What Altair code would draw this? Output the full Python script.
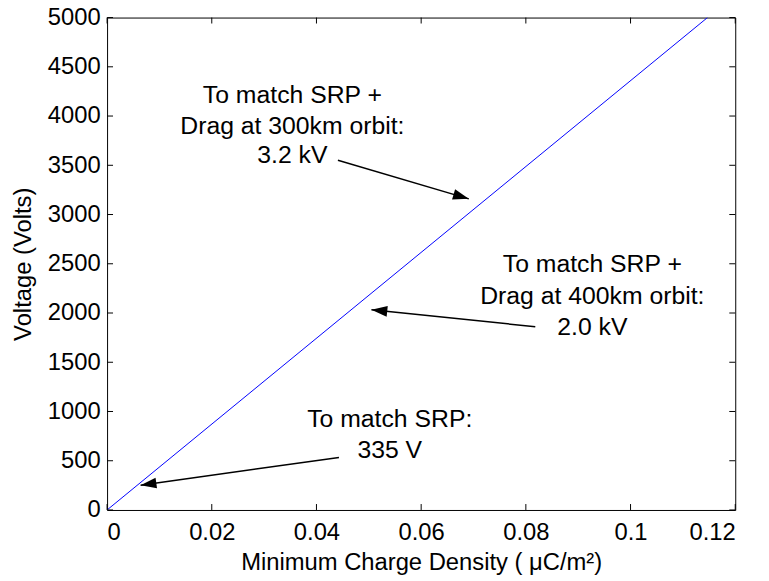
import math
import altair as alt
import pandas as pd

# ---- data ----
density_line = [0.0, 0.1147]          # µC/m^2
voltage_line = [0.0, 5000.0]          # Volts

x_ticks = [0.0, 0.02, 0.04, 0.06, 0.08, 0.1, 0.12]
y_ticks = [0, 500, 1000, 1500, 2000, 2500, 3000, 3500, 4000, 4500, 5000]

# arrows: tail -> head (data coords)
arrow_x_tail = [0.0441, 0.0818, 0.0443]
arrow_y_tail = [3551, 1861, 533]
arrow_x_head = [0.0691, 0.0505, 0.0064]
arrow_y_head = [3159, 2032, 252]

# annotation text lines
ann_text = [
    "To match SRP +", "Drag at 300km orbit:", "3.2 kV",
    "To match SRP +", "Drag at 400km orbit:", "2.0 kV",
    "To match SRP:", "335 V",
]
ann_x = [0.0354, 0.0354, 0.0354,
         0.0927, 0.0927, 0.0927,
         0.0540, 0.0540]
ann_y = [4215, 3903, 3602,
         2495, 2173, 1861,
         926, 604]

W, H = 634, 497
XMAX, YMAX = 0.12, 5000
FONT = "Liberation Sans"

line_df = pd.DataFrame({"x": density_line, "y": voltage_line})
xt_df = pd.DataFrame({"x": x_ticks})
yt_df = pd.DataFrame({"y": y_ticks})
arr_df = pd.DataFrame({"x": arrow_x_tail, "y": arrow_y_tail,
                       "x2": arrow_x_head, "y2": arrow_y_head})
arr_df["angle"] = [
    math.degrees(math.atan2(-(yh - yt) * H / YMAX, (xh - xt) * W / XMAX)) % 360
    for xt, yt, xh, yh in zip(arrow_x_tail, arrow_y_tail, arrow_x_head, arrow_y_head)
]
ann_df = pd.DataFrame({"x": ann_x, "y": ann_y, "t": ann_text})

xscale = alt.Scale(domain=[0, XMAX], nice=False, zero=False)
yscale = alt.Scale(domain=[0, YMAX], nice=False, zero=False)

xaxis = alt.Axis(values=x_ticks, format="~g", title="Minimum Charge Density ( μC/m²)",
                 grid=False, ticks=False, tickSize=0, domain=False,
                 labelPadding=11, titleY=60, titleX=W / 2,
                 titleBaseline="alphabetic")
yaxis = alt.Axis(values=y_ticks, format="d", title="Voltage (Volts)",
                 grid=False, ticks=False, tickSize=0, domain=False,
                 labelPadding=7, titleX=-77, titleY=H / 2, titleAngle=270,
                 titleBaseline="alphabetic", titleAlign="center")

base_line = alt.Chart(line_df).mark_line(color="#0000ff", strokeWidth=1, clip=True).encode(
    x=alt.X("x:Q", scale=xscale, axis=xaxis),
    y=alt.Y("y:Q", scale=yscale, axis=yaxis),
)

tick_x_bottom = alt.Chart(xt_df).mark_rule(color="black", strokeWidth=1).encode(
    x=alt.X("x:Q", scale=xscale), y=alt.value(H), y2=alt.value(H - 6))
tick_x_top = alt.Chart(xt_df).mark_rule(color="black", strokeWidth=1).encode(
    x=alt.X("x:Q", scale=xscale), y=alt.value(0), y2=alt.value(6))
tick_y_left = alt.Chart(yt_df).mark_rule(color="black", strokeWidth=1).encode(
    y=alt.Y("y:Q", scale=yscale), x=alt.value(0), x2=alt.value(6))
tick_y_right = alt.Chart(yt_df).mark_rule(color="black", strokeWidth=1).encode(
    y=alt.Y("y:Q", scale=yscale), x=alt.value(W), x2=alt.value(W - 6))

shafts = alt.Chart(arr_df).mark_rule(color="black", strokeWidth=1.5).encode(
    x=alt.X("x:Q", scale=xscale), y=alt.Y("y:Q", scale=yscale),
    x2="x2:Q", y2="y2:Q")

heads = alt.Chart(arr_df).mark_point(
    shape="M0,0L-2,-0.68L-2,0.68Z", filled=True, color="black", opacity=1,
    size=256, strokeWidth=0).encode(
    x=alt.X("x2:Q", scale=xscale), y=alt.Y("y2:Q", scale=yscale),
    angle=alt.Angle("angle:Q", scale=None))

texts = alt.Chart(ann_df).mark_text(
    font=FONT, fontSize=25, color="black", align="center", baseline="middle").encode(
    x=alt.X("x:Q", scale=xscale), y=alt.Y("y:Q", scale=yscale), text="t:N")

chart = alt.layer(
    base_line, tick_x_bottom, tick_x_top, tick_y_left, tick_y_right,
    shafts, heads, texts
).properties(
    width=W, height=H,
    background="white",
    autosize=alt.AutoSizeParams(type="none"),
    padding={"left": 100, "top": 7, "right": 26, "bottom": 66},
).configure_view(
    stroke="black", strokeWidth=1
).configure_axis(
    labelFont=FONT, titleFont=FONT, labelFontSize=24, titleFontSize=24,
    labelColor="black", titleColor="black", titleFontWeight="normal"
)

chart.save("out.html", embed_options={"renderer": "svg", "actions": False})
